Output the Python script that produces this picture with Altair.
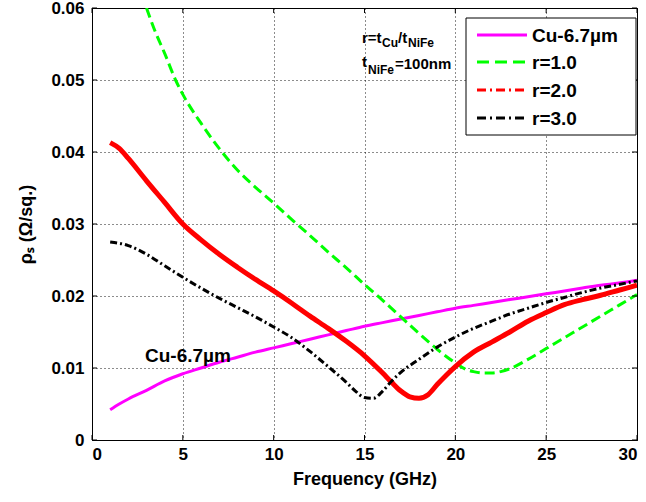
import altair as alt
import pandas as pd

# ---------------- data ----------------
cu_x = [1, 1.5, 2, 3, 4, 5, 6, 7, 8, 9, 10, 11, 12, 13, 14, 15, 16, 17, 18, 19,
        20, 21, 22, 23, 24, 25, 26, 27, 28, 29, 30]
cu_y = [0.0042, 0.0050, 0.0057, 0.0069, 0.0082, 0.0092, 0.0100, 0.0108, 0.0115,
        0.0122, 0.0128, 0.0134, 0.0140, 0.0146, 0.0152, 0.0158, 0.0163, 0.0168,
        0.0173, 0.0178, 0.0183, 0.0187, 0.0191, 0.0195, 0.0199, 0.0203, 0.0207,
        0.0211, 0.0215, 0.0218, 0.0222]

r1_x = [3, 3.5, 4, 4.6, 5, 6, 7, 8, 9, 10, 11, 12, 13, 14, 15, 16, 17, 18, 19,
        20, 20.5, 21, 21.5, 22, 22.5, 23, 24, 25, 26, 27, 28, 29, 30]
r1_y = [0.0600, 0.0566, 0.0537, 0.0500, 0.0480, 0.0440, 0.0405, 0.0375, 0.0351,
        0.0329, 0.0306, 0.0284, 0.0261, 0.0239, 0.0216, 0.0194, 0.0171, 0.0148,
        0.0126, 0.0107, 0.0099, 0.0095, 0.0093, 0.0093, 0.0095, 0.0099, 0.0112,
        0.0127, 0.0142, 0.0157, 0.0172, 0.0187, 0.0202]

r2_x = [1, 1.5, 2, 3, 4, 5, 6, 7, 8, 9, 10, 11, 12, 13, 14, 15, 16, 16.5, 17,
        17.5, 18, 18.5, 19, 19.5, 20, 21, 22, 23, 24, 25, 26, 27, 28, 29, 30]
r2_y = [0.0413, 0.0405, 0.0391, 0.0360, 0.0330, 0.0300, 0.0278, 0.0258, 0.0240,
        0.0223, 0.0207, 0.0190, 0.0172, 0.0155, 0.0137, 0.0117, 0.0093, 0.0080,
        0.0068, 0.0060, 0.0058, 0.0063, 0.0077, 0.0090, 0.0102, 0.0122, 0.0136,
        0.0150, 0.0165, 0.0177, 0.0188, 0.0195, 0.0201, 0.0208, 0.0215]

r3_x = [1, 2, 3, 4, 5, 6, 7, 8, 9, 10, 11, 12, 13, 14, 14.5, 15, 15.5, 16, 16.5,
        17, 18, 19, 20, 21, 22, 23, 24, 25, 26, 27, 28, 29, 30]
r3_y = [0.0275, 0.0270, 0.0258, 0.0242, 0.0226, 0.0211, 0.0197, 0.0184, 0.0171,
        0.0157, 0.0142, 0.0123, 0.0102, 0.0080, 0.0068, 0.0059, 0.0058, 0.0068,
        0.0082, 0.0094, 0.0112, 0.0129, 0.0143, 0.0155, 0.0165, 0.0175, 0.0183,
        0.0191, 0.0198, 0.0205, 0.0211, 0.0216, 0.0221]

x_ticks = [0, 5, 10, 15, 20, 25, 30]
y_ticks = [0, 0.01, 0.02, 0.03, 0.04, 0.05, 0.06]

legend_labels = ["Cu-6.7\u00b5m", "r=1.0", "r=2.0", "r=3.0"]

# ---------------- layout ----------------
W, H = 545, 432
FONT = "Liberation Sans"

xscale = alt.Scale(domain=[0, 30], nice=False, zero=False)
yscale = alt.Scale(domain=[0, 0.06], nice=False, zero=False)


def series_df(xs, ys):
    return pd.DataFrame({"f": xs, "v": ys})


def enc(chart):
    return chart.encode(
        x=alt.X("f:Q", scale=xscale,
                axis=alt.Axis(values=x_ticks, title="Frequency (GHz)", grid=True,
                              format="~g", labelPadding=6, titlePadding=8)),
        y=alt.Y("v:Q", scale=yscale,
                axis=alt.Axis(values=y_ticks, title="\u03c1\u209b (\u03a9/sq.)", grid=True,
                              format="~g", labelPadding=8, titlePadding=15)),
        order="f:Q",
    )


cu = enc(alt.Chart(series_df(cu_x, cu_y)).mark_line(
    color="#FF00FF", strokeWidth=3, clip=True, interpolate="monotone"))
r1 = enc(alt.Chart(series_df(r1_x, r1_y)).mark_line(
    color="#00FF00", strokeWidth=3, strokeDash=[10, 5], clip=True, interpolate="monotone"))
r2 = enc(alt.Chart(series_df(r2_x, r2_y)).mark_line(
    color="#FF0000", strokeWidth=5, clip=True, interpolate="monotone"))
r3 = enc(alt.Chart(series_df(r3_x, r3_y)).mark_line(
    color="#000000", strokeWidth=3, strokeDash=[7, 3, 2, 3], clip=True, interpolate="monotone"))

# inward ticks (positioned through the scales)
xt = pd.DataFrame({"f": x_ticks})
yt = pd.DataFrame({"v": y_ticks})
tick_bottom = alt.Chart(xt).mark_rule(color="black").encode(
    x=alt.X("f:Q", scale=xscale), y=alt.value(H - 5), y2=alt.value(H))
tick_top = alt.Chart(xt).mark_rule(color="black").encode(
    x=alt.X("f:Q", scale=xscale), y=alt.value(0), y2=alt.value(5))
tick_left = alt.Chart(yt).mark_rule(color="black").encode(
    y=alt.Y("v:Q", scale=yscale), x=alt.value(0), x2=alt.value(5))
tick_right = alt.Chart(yt).mark_rule(color="black").encode(
    y=alt.Y("v:Q", scale=yscale), x=alt.value(W - 5), x2=alt.value(W))

# annotations
def txt(s, x, y, size, align="left"):
    return alt.Chart(pd.DataFrame({"t": [s]})).mark_text(
        font=FONT, fontSize=size, fontWeight="bold", align=align, baseline="alphabetic",
        color="black").encode(text="t:N", x=alt.value(x), y=alt.value(y))

ann = [
    txt("r=t", 270, 35, 15),
    txt("Cu", 290, 39, 12),
    txt("/t", 306, 35, 15),
    txt("NiFe", 316, 39, 12),
    txt("t", 270, 59, 15),
    txt("NiFe", 276, 66, 12),
    txt("=100nm", 303, 61, 15),
    txt("Cu-6.7\u00b5m", 53, 354, 19),
]

# legend box
leg_box = alt.Chart(pd.DataFrame({"a": [0]})).mark_rect(
    fill="white", stroke="black", strokeWidth=1).encode(
    x=alt.value(374), x2=alt.value(544), y=alt.value(10), y2=alt.value(127))

leg_styles = [
    dict(color="#FF00FF", strokeWidth=3),
    dict(color="#00FF00", strokeWidth=3, strokeDash=[12, 6]),
    dict(color="#FF0000", strokeWidth=3, strokeDash=[9, 4, 2, 4]),
    dict(color="#000000", strokeWidth=3, strokeDash=[9, 4, 2, 4]),
]
leg_rows = [27, 54, 82, 110]
leg_layers = [leg_box]
for lab, sty, yy in zip(legend_labels, leg_styles, leg_rows):
    leg_layers.append(
        alt.Chart(pd.DataFrame({"a": [0]})).mark_rule(**sty).encode(
            x=alt.value(385), x2=alt.value(435), y=alt.value(yy)))
    leg_layers.append(
        alt.Chart(pd.DataFrame({"t": [lab]})).mark_text(
            font=FONT, fontSize=19, fontWeight="bold", align="left", baseline="middle",
            color="black").encode(text="t:N", x=alt.value(440), y=alt.value(yy + 1)))

chart = alt.layer(
    cu, r1, r2, r3, tick_bottom, tick_top, tick_left, tick_right, *ann, *leg_layers
).properties(
    width=W, height=H,
    autosize=alt.AutoSizeParams(type="none"),
    padding={"left": 92, "top": 8, "right": 9, "bottom": 62},
    background="white",
).configure_view(
    stroke="black", strokeWidth=1
).configure_axis(
    labelFont=FONT, titleFont=FONT, labelFontSize=17, titleFontSize=18,
    labelFontWeight="bold", titleFontWeight="bold",
    labelColor="black", titleColor="black",
    domain=True, domainColor="black", ticks=False,
    gridColor="black", gridDash=[1, 3], gridOpacity=0.9, gridWidth=1,
)

chart.save("out.html", embed_options={"renderer": "svg", "actions": False})
